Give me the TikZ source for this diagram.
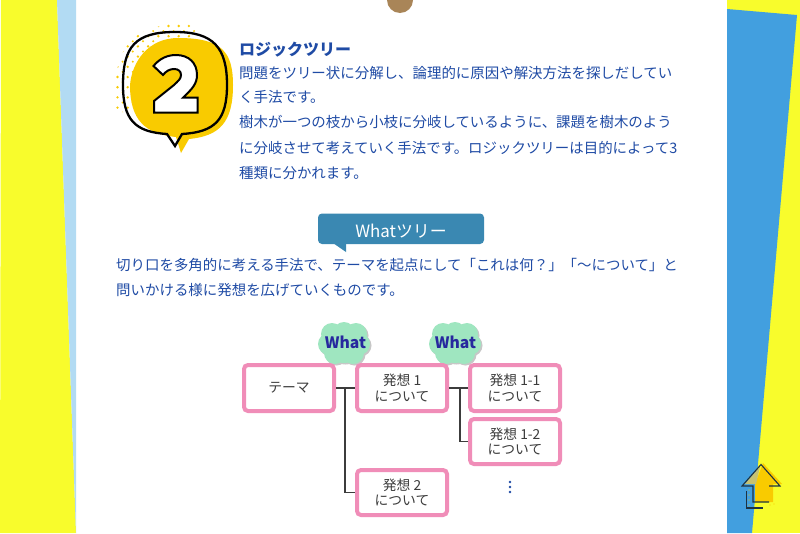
\documentclass[tikz,border=0pt]{standalone}
\usepackage{fontspec}
\setmainfont{Noto Sans CJK JP}
\definecolor{yel}{HTML}{F8FC2C}
\definecolor{lblue}{HTML}{B2DBF3}
\definecolor{mblue}{HTML}{429FDF}
\definecolor{txt}{HTML}{1F4BA5}
\definecolor{gold}{HTML}{F9CB00}
\definecolor{pinkb}{HTML}{F08DB8}
\definecolor{mint}{HTML}{9FE6C0}
\definecolor{teal}{HTML}{3A88B2}
\definecolor{gr}{HTML}{3C3C3C}
\definecolor{whatc}{HTML}{27289E}
\definecolor{pinc}{HTML}{A98558}
\definecolor{icn}{HTML}{1F3340}
\tikzset{
 x=1pt,y=-1pt,
 para/.style={anchor=west,inner sep=0,text=txt,font=\fontsize{14.45}{14.45}\selectfont},
 boxn/.style={draw=pinkb,line width=4pt,rounded corners=4pt,fill=white,minimum width=90pt,minimum height=46pt,text=gr,align=center,inner sep=0,font=\fontsize{13.8}{15.5}\selectfont},
 conn/.style={draw=gr,line width=1.3pt},
 whatn/.style={inner sep=0,text=whatc,font=\bfseries\fontsize{15.7}{16}\selectfont},
 icl/.style={line width=1.1pt,draw=icn,line join=miter},
}
\begin{document}
\begin{tikzpicture}
\useasboundingbox (0,0) rectangle (800,533);
\fill[white] (0,0) rectangle (800,533);
% side bands
\fill[yel] (1,0) -- (57,0) -- (76,533) -- (0,533) -- cycle;
\fill[lblue] (57,0) -- (76,0) -- (76,533) -- cycle;
\fill[yel] (727,0) -- (800,0) -- (800,533) -- (727,533) -- cycle;
\fill[mblue] (727,9) -- (797,15) -- (752,533) -- (727,533) -- cycle;
% pin
\begin{scope}
\clip (380,0) rectangle (420,20);
\fill[pinc] (400,0) circle (13);
\end{scope}
% badge dots
\begin{scope}
\clip (115,112) .. controls (113,50) and (125,23) .. (194,23) -- (200,45) -- (132,112) -- cycle;
\foreach \i in {0,...,8}{\foreach \j in {0,...,9}{
  \fill[gold] (117.5+\i*10.2,26+\j*10.2) circle (1.3);
  \fill[gold] (122.6+\i*10.2,31.1+\j*10.2) circle (1.1);
}}
\end{scope}
% badge yellow
\fill[gold] (130,85) .. controls (132,62) and (148,38) .. (178,38) .. controls (222,38) and (233,52) .. (233,85) .. controls (233,122) and (220,136) .. (189,139) -- (181,153) -- (176,137) .. controls (145,134) and (130,120) .. (130,85) -- cycle;
% badge outline
\draw[line width=2.3pt,black,line join=miter] (175,32) .. controls (135,32) and (123,47) .. (123,85) .. controls (123,120) and (135,132) .. (167,134) -- (175,146) -- (182,134) .. controls (215,132) and (227,120) .. (227,85) .. controls (227,47) and (213,32) .. (175,32) -- cycle;
% numeral
\path[fill=white,draw=black,line width=2pt,line join=miter] (153.5,66) .. controls (160,58) and (168,55) .. (176,55) .. controls (189,55) and (197,63) .. (197,75) .. controls (197,84) and (192,89) .. (183,97.7) -- (197.5,97.7) -- (197.5,112.5) -- (154,112.5) -- (154,101) -- (174,85) .. controls (178,81) and (181,79) .. (181,75) .. controls (181,71) and (178,69) .. (174,69) .. controls (170,69) and (166,71) .. (163,75) -- cycle;
% header text
\node[para,font=\bfseries\fontsize{16}{16}\selectfont] (t0) at (239,50) {ロジックツリー};
\node[para] (t1) at (239,73) {問題をツリー状に分解し、論理的に原因や解決方法を探しだしてい};
\node[para] (t2) at (239,97) {く手法です。};
\node[para] (t3) at (239,122) {樹木が一つの枝から小枝に分岐しているように、課題を樹木のよう};
\node[para] (t4) at (239,148) {に分岐させて考えていく手法です。ロジックツリーは目的によって3};
\node[para] (t5) at (239,173) {種類に分かれます。};
% banner
\fill[teal,rounded corners=4pt] (318,213.5) rectangle (484,244);
\fill[teal] (333,243) -- (346,243) -- (346,252) -- cycle;
\node[inner sep=0,text=white,font=\fontsize{16.9}{17}\selectfont] (banner) at (401,231) {Whatツリー};
\node[para] (p1) at (116,265) {切り口を多角的に考える手法で、テーマを起点にして「これは何？」「〜について」と};
\node[para] (p2) at (116,290) {問いかける様に発想を広げていくものです。};
% clouds
\foreach \cx in {344,455}{
 \begin{scope}[xshift=1.5pt,yshift=-1.5pt]
 \fill[black!22] (\cx-12,334) circle (11) (\cx+12,334) circle (11) (\cx,333) circle (11) (\cx-15,344) circle (11) (\cx+15,344) circle (11) (\cx-9,353) circle (11) (\cx+9,353) circle (11) (\cx,345) circle (18);
 \end{scope}
 \fill[mint] (\cx-12,334) circle (11) (\cx+12,334) circle (11) (\cx,333) circle (11) (\cx-15,344) circle (11) (\cx+15,344) circle (11) (\cx-9,353) circle (11) (\cx+9,353) circle (11) (\cx,345) circle (18);
}
\node[whatn] (w1) at (345.5,342.5) {What};
\node[whatn] (w2) at (455.5,342.5) {What};
% boxes
\node[boxn] (theme) at (289,388) {テーマ};
\node[boxn] (h1) at (402,388) {発想 1\\について};
\node[boxn] (h11) at (515,388) {発想 1-1\\について};
\node[boxn,minimum height=45pt] (h12) at (515,441.5) {発想 1-2\\について};
\node[boxn,minimum height=45pt] (h2) at (402,492.5) {発想 2\\について};
% connectors
\coordinate (j1) at (345,388);
\coordinate (j2) at (460,388);
\draw[conn] (theme.east) -- (h1.west);
\draw[conn] (j1) |- (h2.west);
\draw[conn] (h1.east) -- (h11.west);
\draw[conn] (j2) |- (h12.west);
% vertical dots
\fill[txt] (510,482) circle (1.3) (510,487) circle (1.3) (510,492) circle (1.3);
% up arrow icon
\fill[gold] (763,463) -- (782,484) -- (773,484) -- (773,502) -- (755,502) -- (755,484) -- cycle;
\fill[gold!55!lblue!80!gray] (761,465) -- (745,484) -- (756,484) -- (760,467) -- cycle;
\foreach \dy in {490,495,500,505}{\fill[gold] (749,\dy) circle (0.7);}
\fill[gold] (770,505) circle (0.7) (774,504) circle (0.7);
\draw[icl] (769,502) -- (753,502) -- (753,486) -- (742,486) -- (761,464.5) -- (780,486) -- (769,486);
\draw[icl] (746.7,491) -- (746.7,508) -- (763,508);
\end{tikzpicture}
\end{document}
